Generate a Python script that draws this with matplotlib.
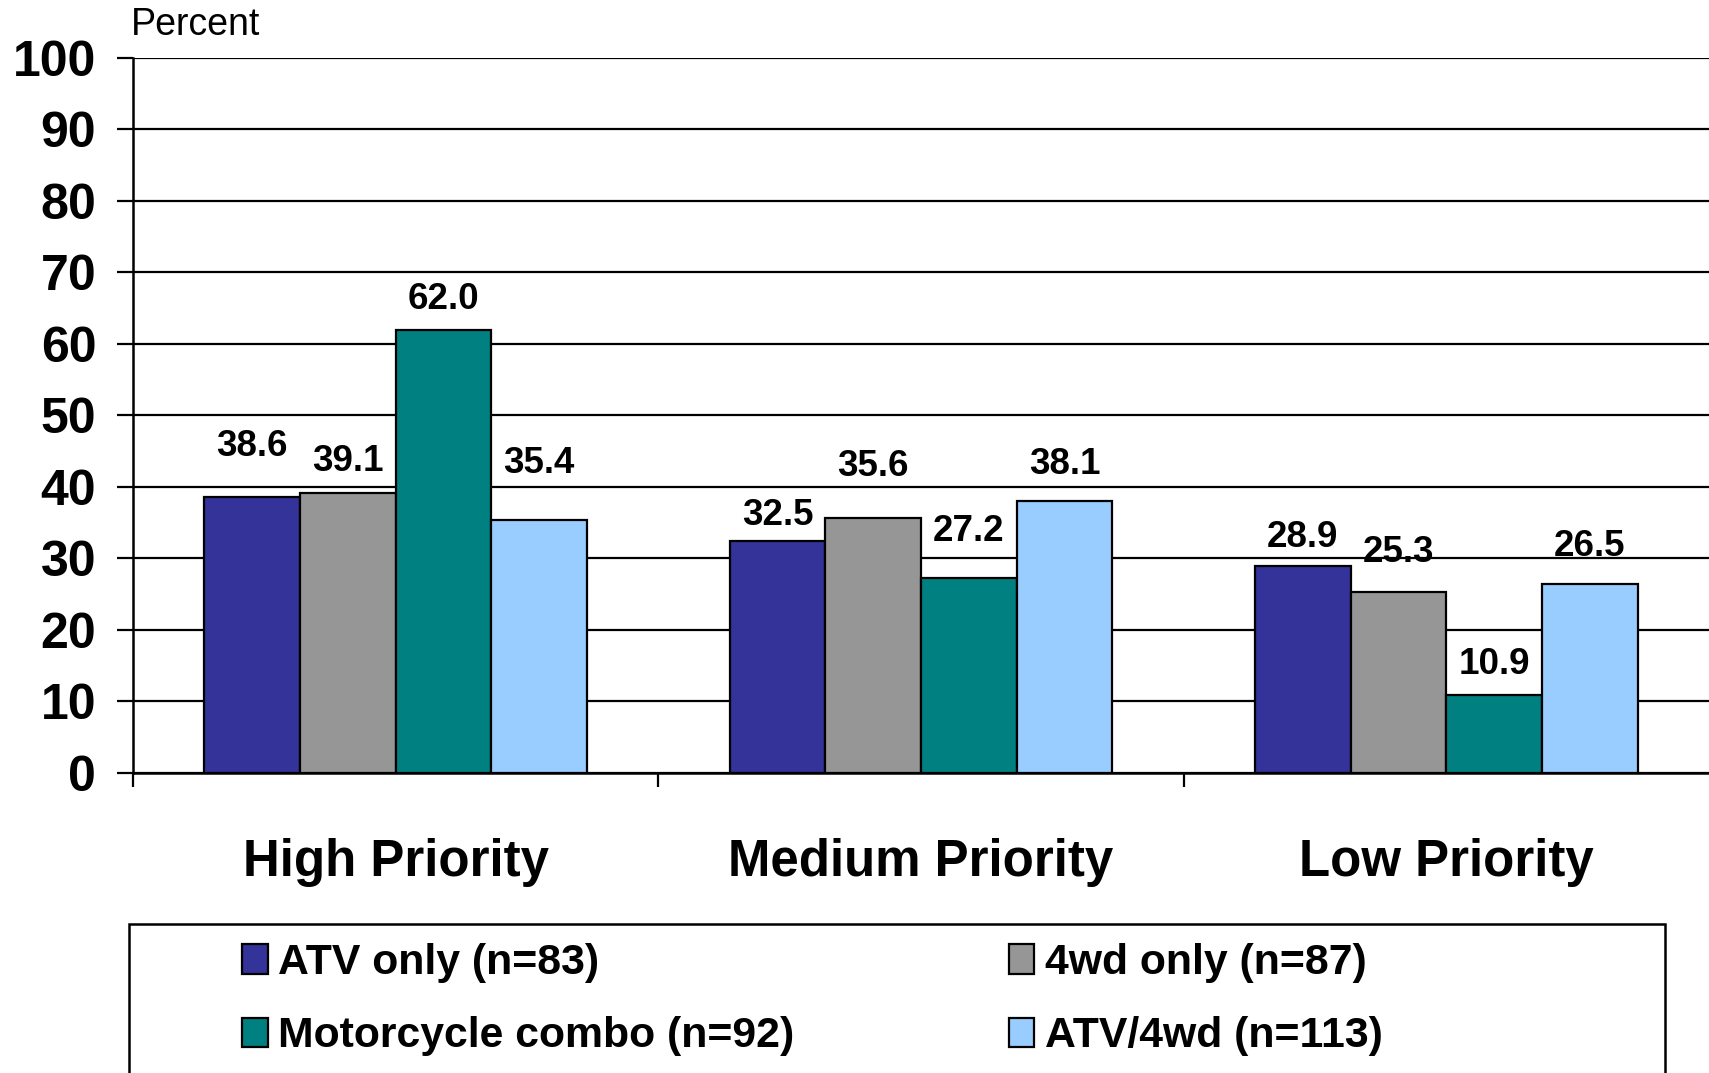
import numpy as np
import matplotlib
matplotlib.use("Agg")
import matplotlib.pyplot as plt
from matplotlib.patches import Patch, Rectangle

plt.rcParams['font.family'] = ['Liberation Sans', 'DejaVu Sans']

# data
categories = ['High Priority', 'Medium Priority', 'Low Priority']
series_names = ['ATV only (n=83)', '4wd only (n=87)', 'Motorcycle combo (n=92)', 'ATV/4wd (n=113)']
atv_only = [38.6, 32.5, 28.9]
wd_only = [39.1, 35.6, 25.3]
moto_combo = [62.0, 27.2, 10.9]
atv_4wd = [35.4, 38.1, 26.5]
colors = ['#333399', '#969696', '#008080', '#99CCFF']

# where the value labels sit above each bar (in percent units), like in the original
label_shift = [[7.1, 4.5, 4.2, 7.9],
               [3.5, 7.2, 6.6, 5.0],
               [4.0, 5.5, 4.3, 5.2]]

series = [atv_only, wd_only, moto_combo, atv_4wd]

fig = plt.figure(figsize=(17.09, 10.73), dpi=100)
ax = fig.add_axes([0.0778, 0.2796, 0.9222, 0.6664])

x = np.arange(len(categories)) + 0.5
w = 0.182
for i, (vals, name, col) in enumerate(zip(series, series_names, colors)):
    pos = x + (i - 1.5) * w
    ax.bar(pos, vals, width=w, color=col, edgecolor='black', linewidth=1.6,
           label=name, zorder=3)
    for j, v in enumerate(vals):
        ax.text(pos[j], v + label_shift[j][i], f'{v:.1f}', ha='center', va='center',
                fontsize=26.5, fontweight='bold', zorder=4)

ax.set_xlim(0, 3)
ax.set_ylim(0, 100)
ax.set_yticks(range(0, 101, 10))
ax.yaxis.grid(True, color='black', linewidth=1.6, zorder=0)
ax.set_axisbelow(True)
ax.tick_params(axis='y', direction='out', length=11.5, width=1.6, pad=15,
               labelsize=36)
for lbl in ax.get_yticklabels():
    lbl.set_fontweight('bold')

# group separators as major ticks, category names as minor ticks
ax.set_xticks([0, 1, 2])
ax.set_xticklabels([])
ax.set_xticks(x, minor=True)
ax.set_xticklabels(categories, minor=True, fontsize=36.7, fontweight='bold')
ax.tick_params(axis='x', which='major', direction='out', length=10, width=1.6)
ax.tick_params(axis='x', which='minor', length=0, pad=47)

for s in ['top', 'right']:
    ax.spines[s].set_visible(False)
for s in ['left', 'bottom']:
    ax.spines[s].set_linewidth(1.8)
ax.spines['bottom'].set_zorder(5)

fig.text(131 / 1709, 1 - 35 / 1073, 'Percent', fontsize=27, va='baseline', ha='left')

# legend box runs off the bottom of the page
fig.patches.append(Rectangle((129 / 1709, -0.1), (1665 - 129) / 1709, 0.1 + 1 - 924 / 1073,
                             transform=fig.transFigure, fill=False,
                             edgecolor='black', linewidth=1.8))
# row-wise order: ATV only, 4wd only / Motorcycle combo, ATV/4wd
order = [0, 2, 1, 3]
handles = [Patch(facecolor=colors[k], edgecolor='black', linewidth=1.6) for k in order]
labels = [series_names[k] for k in order]
fig.legend(handles, labels, ncol=2, loc='upper left',
           bbox_to_anchor=(242 / 1709, 1 - 943 / 1073), frameon=False,
           prop={'size': 30.8, 'weight': 'bold'}, handlelength=0.6, handleheight=0.68,
           handletextpad=0.25, columnspacing=5.0, labelspacing=0.78,
           borderpad=0, borderaxespad=0)

fig.savefig('out.png', dpi=100)
